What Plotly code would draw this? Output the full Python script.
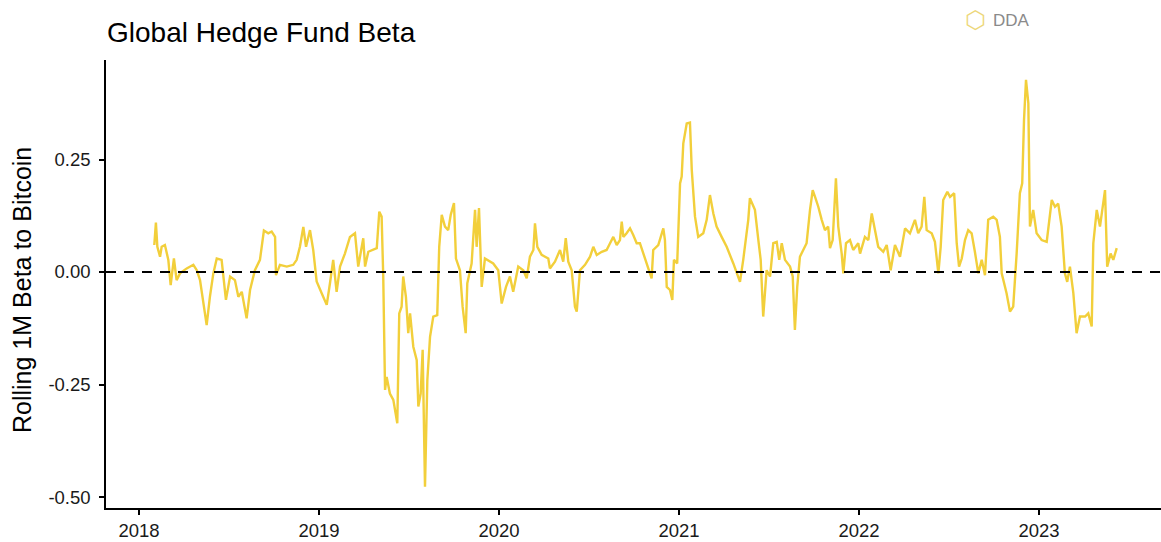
import plotly.graph_objects as go

# Decimal-year time axis and rolling 1M beta values
years = [
    2018.085, 2018.094, 2018.102, 2018.117, 2018.126, 2018.144, 2018.163, 2018.176, 2018.194, 2018.209,
    2018.228, 2018.265, 2018.302, 2018.321, 2018.339, 2018.376, 2018.394, 2018.413, 2018.432, 2018.459,
    2018.483, 2018.506, 2018.533, 2018.552, 2018.571, 2018.598, 2018.617, 2018.644, 2018.672, 2018.694,
    2018.718, 2018.737, 2018.756, 2018.761, 2018.783, 2018.821, 2018.857, 2018.876, 2018.894, 2018.913,
    2018.928, 2018.950, 2018.968, 2018.987, 2019.015, 2019.043, 2019.061, 2019.079, 2019.098, 2019.117,
    2019.144, 2019.172, 2019.200, 2019.218, 2019.246, 2019.256, 2019.274, 2019.321, 2019.335, 2019.348,
    2019.357, 2019.367, 2019.376, 2019.394, 2019.413, 2019.435, 2019.446, 2019.459, 2019.468, 2019.483,
    2019.496, 2019.506, 2019.524, 2019.543, 2019.552, 2019.565, 2019.576, 2019.589, 2019.602, 2019.617,
    2019.635, 2019.657, 2019.668, 2019.682, 2019.700, 2019.718, 2019.732, 2019.750, 2019.761, 2019.783,
    2019.798, 2019.815, 2019.824, 2019.848, 2019.867, 2019.876, 2019.889, 2019.904, 2019.922, 2019.950,
    2019.968, 2019.996, 2020.015, 2020.039, 2020.061, 2020.079, 2020.107, 2020.135, 2020.154, 2020.172,
    2020.191, 2020.200, 2020.213, 2020.237, 2020.274, 2020.283, 2020.311, 2020.339, 2020.357, 2020.371,
    2020.385, 2020.404, 2020.422, 2020.432, 2020.450, 2020.478, 2020.506, 2020.524, 2020.543, 2020.571,
    2020.598, 2020.617, 2020.635, 2020.654, 2020.672, 2020.682, 2020.691, 2020.709, 2020.728, 2020.746,
    2020.765, 2020.783, 2020.802, 2020.829, 2020.848, 2020.857, 2020.885, 2020.913, 2020.922, 2020.932,
    2020.950, 2020.963, 2020.972, 2020.990, 2021.006, 2021.015, 2021.024, 2021.043, 2021.061, 2021.071,
    2021.089, 2021.107, 2021.135, 2021.154, 2021.172, 2021.191, 2021.209, 2021.237, 2021.265, 2021.302,
    2021.339, 2021.357, 2021.385, 2021.394, 2021.422, 2021.441, 2021.454, 2021.468, 2021.487, 2021.506,
    2021.524, 2021.543, 2021.557, 2021.571, 2021.589, 2021.617, 2021.632, 2021.644, 2021.657, 2021.672,
    2021.691, 2021.709, 2021.728, 2021.743, 2021.756, 2021.774, 2021.793, 2021.811, 2021.829, 2021.839,
    2021.854, 2021.872, 2021.885, 2021.904, 2021.913, 2021.928, 2021.950, 2021.968, 2021.996, 2022.006,
    2022.033, 2022.052, 2022.071, 2022.089, 2022.107, 2022.135, 2022.154, 2022.176, 2022.200, 2022.228,
    2022.256, 2022.283, 2022.311, 2022.329, 2022.348, 2022.363, 2022.376, 2022.404, 2022.422, 2022.441,
    2022.454, 2022.468, 2022.491, 2022.506, 2022.529, 2022.543, 2022.556, 2022.571, 2022.589, 2022.607,
    2022.626, 2022.644, 2022.663, 2022.682, 2022.700, 2022.718, 2022.746, 2022.765, 2022.783, 2022.793,
    2022.820, 2022.839, 2022.857, 2022.876, 2022.894, 2022.907, 2022.917, 2022.928, 2022.941, 2022.950,
    2022.968, 2022.987, 2023.015, 2023.043, 2023.071, 2023.089, 2023.107, 2023.126, 2023.144, 2023.157,
    2023.172, 2023.191, 2023.209, 2023.228, 2023.256, 2023.274, 2023.293, 2023.302, 2023.321, 2023.339,
    2023.367, 2023.379, 2023.398, 2023.413, 2023.432,
]

beta = [
    0.060, 0.110, 0.056, 0.034, 0.056, 0.060, 0.027, -0.029, 0.030, -0.018,
    -0.003, 0.008, 0.016, 0.004, -0.018, -0.118, -0.055, -0.003, 0.030, 0.027,
    -0.062, -0.010, -0.018, -0.055, -0.044, -0.103, -0.040, 0.004, 0.027, 0.092,
    0.086, 0.090, 0.078, -0.007, 0.016, 0.012, 0.016, 0.027, 0.056, 0.100,
    0.056, 0.093, 0.049, -0.021, -0.047, -0.073, -0.025, 0.027, -0.044, 0.012,
    0.041, 0.078, 0.086, 0.012, 0.075, 0.012, 0.045, 0.053, 0.134, 0.123,
    -0.010, -0.262, -0.233, -0.270, -0.284, -0.336, -0.092, -0.077, -0.010, -0.055,
    -0.136, -0.092, -0.166, -0.196, -0.299, -0.270, -0.173, -0.477, -0.240, -0.144,
    -0.099, -0.096, 0.056, 0.127, 0.101, 0.093, 0.127, 0.153, 0.030, 0.004,
    -0.077, -0.136, -0.025, 0.019, 0.138, 0.056, 0.142, -0.033, 0.030, 0.023,
    0.019, 0.004, -0.070, -0.033, -0.010, -0.044, 0.012, 0.004, -0.014, 0.034,
    0.049, 0.108, 0.056, 0.038, 0.030, 0.008, 0.023, 0.049, 0.023, 0.075,
    0.023, 0.004, -0.077, -0.088, 0.004, 0.016, 0.034, 0.056, 0.038, 0.045,
    0.049, 0.064, 0.078, 0.060, 0.071, 0.112, 0.078, 0.086, 0.097, 0.082,
    0.064, 0.064, 0.041, 0.004, -0.014, 0.049, 0.060, 0.097, 0.071, -0.033,
    -0.040, -0.062, 0.027, 0.019, 0.197, 0.212, 0.286, 0.330, 0.332, 0.227,
    0.123, 0.078, 0.086, 0.116, 0.171, 0.130, 0.101, 0.078, 0.056, 0.019,
    -0.022, 0.027, 0.116, 0.164, 0.138, 0.071, 0.027, -0.099, 0.004, -0.010,
    0.064, 0.067, 0.027, 0.064, 0.027, 0.012, -0.010, -0.129, -0.033, 0.034,
    0.049, 0.064, 0.138, 0.182, 0.167, 0.145, 0.116, 0.093, 0.101, 0.053,
    0.071, 0.208, 0.101, 0.041, -0.003, 0.064, 0.071, 0.049, 0.064, 0.041,
    0.078, 0.071, 0.130, 0.093, 0.056, 0.045, 0.060, 0.004, 0.060, 0.034,
    0.097, 0.086, 0.116, 0.086, 0.101, 0.167, 0.093, 0.086, 0.067, -0.003,
    0.056, 0.160, 0.178, 0.167, 0.175, 0.064, 0.012, 0.030, 0.071, 0.093,
    0.086, 0.045, -0.003, 0.027, -0.007, 0.116, 0.123, 0.116, 0.078, -0.003,
    -0.047, -0.088, -0.077, 0.041, 0.175, 0.197, 0.338, 0.427, 0.375, 0.101,
    0.138, 0.086, 0.071, 0.067, 0.160, 0.145, 0.152, 0.101, -0.003, -0.022,
    0.012, -0.047, -0.136, -0.099, -0.099, -0.092, -0.121, 0.064, 0.138, 0.101,
    0.182, 0.012, 0.041, 0.027, 0.053,
]

x_tick_vals = [2018, 2019, 2020, 2021, 2022, 2023]
x_tick_text = ["2018", "2019", "2020", "2021", "2022", "2023"]
y_tick_vals = [-0.50, -0.25, 0.00, 0.25]
y_tick_text = ["-0.50", "-0.25", "0.00", "0.25"]

FONT = "Liberation Sans, Arial, sans-serif"

fig = go.Figure()
fig.add_trace(go.Scatter(
    x=years, y=beta, mode="lines",
    line=dict(color="#F2CF3B", width=2.4),
    hoverinfo="skip", showlegend=False,
))

fig.add_hline(y=0, line=dict(color="black", width=2, dash="10px,8px"), layer="above")

fig.update_layout(
    width=1161, height=542,
    margin=dict(l=106, r=0, t=60, b=34),
    paper_bgcolor="white", plot_bgcolor="white",
    font=dict(family=FONT, color="#1a1a1a"),
    title=dict(
        text="Global Hedge Fund Beta",
        font=dict(family=FONT, size=28, color="black"),
        xref="container", yref="container",
        x=107 / 1161, xanchor="left",
        y=1 - 32 / 542, yanchor="middle",
    ),
    xaxis=dict(
        range=[2017.8167, 2023.678],
        tickmode="array", tickvals=x_tick_vals, ticktext=x_tick_text,
        showgrid=False, zeroline=False, automargin=False,
        showline=True, linecolor="black", linewidth=1.5,
        ticks="outside", ticklen=5, tickwidth=1.5, tickcolor="black",
        tickfont=dict(family=FONT, size=18.5, color="#1a1a1a"),
    ),
    yaxis=dict(
        range=[-0.5244, 0.4711],
        tickmode="array", tickvals=y_tick_vals, ticktext=y_tick_text,
        showgrid=False, zeroline=False, automargin=False,
        showline=True, linecolor="black", linewidth=1.5,
        ticks="outside", ticklen=5, tickwidth=1.5, tickcolor="black",
        ticklabelstandoff=5,
        tickfont=dict(family=FONT, size=18.5, color="#1a1a1a"),
    ),
)

fig.add_annotation(
    text="Rolling 1M Beta to Bitcoin",
    xref="paper", yref="paper",
    x=(22 - 106) / 1055, y=(508 - 290) / 448,
    textangle=-90, showarrow=False,
    font=dict(family=FONT, size=25, color="black"),
    xanchor="center", yanchor="middle",
)

# DDA logo
fig.add_annotation(
    text="⬡", xref="paper", yref="paper",
    x=(975 - 106) / 1055, y=1 + (60 - 20) / 448,
    showarrow=False, font=dict(family="DejaVu Sans", size=24, color="#EDD77A"),
    xanchor="center", yanchor="middle",
)
fig.add_annotation(
    text="DDA", xref="paper", yref="paper",
    x=(991 - 106) / 1055, y=1 + (60 - 20) / 448,
    showarrow=False, font=dict(family="Liberation Sans", size=17, color="#8a8a8a"),
    xanchor="left", yanchor="middle",
)

fig.write_html("out.html", config={"displayModeBar": False})

# remove the browser's default page margin so the figure sits at (0, 0)
with open("out.html", "r", encoding="utf-8") as f:
    html = f.read()
html = html.replace("<head>", "<head><style>html,body{margin:0;padding:0;}</style>", 1)
with open("out.html", "w", encoding="utf-8") as f:
    f.write(html)
